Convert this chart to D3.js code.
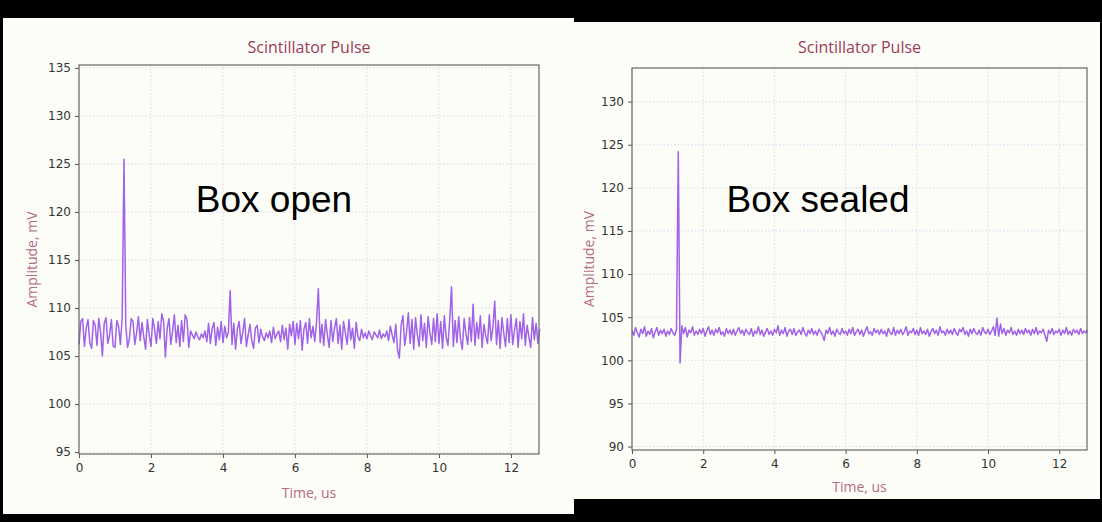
<!DOCTYPE html>
<html>
<head>
<meta charset="utf-8">
<script src="https://cdn.jsdelivr.net/npm/d3@7"></script>
<style>
  body { margin: 0; background: #000; }
  svg { display: block; }
  .tick text { font-family: "DejaVu Sans", sans-serif; font-size: 12px; fill: #333; }
  .tick line { stroke: #555; }
</style>
</head>
<body>
<div id="chart"></div>
<script>
// sampling step of both traces, microseconds
const timeStep = 0.05;

// Box open trace, mV (one value per 0.05 us)
const openAmplitude = [
  106.2, 108.6, 108.9, 106.0, 107.9, 108.8, 106.4, 105.8, 108.7, 108.2, 106.1, 108.9, 107.5, 105.0, 108.4, 109.0, 106.3, 107.2, 108.8, 106.0,
  105.9, 108.7, 108.1, 106.2, 109.0, 125.5, 108.2, 105.9, 106.8, 108.9, 108.6, 106.2, 107.4, 109.1, 106.6, 108.5, 107.0, 105.7, 108.8, 107.2,
  106.0, 108.9, 107.8, 106.3, 108.6, 106.8, 109.4, 108.6, 104.9, 107.9, 108.9, 106.2, 107.6, 109.3, 106.4, 108.2, 106.0, 108.7, 106.5, 109.3,
  108.8, 105.9, 107.6, 107.2, 106.8, 107.5, 107.0, 106.7, 107.3, 106.9, 107.6, 106.5, 108.4, 106.3, 107.9, 108.5, 106.1, 108.0, 106.7, 108.6,
  106.4, 108.1, 106.9, 107.5, 111.8, 106.2, 108.4, 105.7, 107.8, 108.6, 106.3, 107.5, 108.9, 106.0, 107.2, 108.3, 106.6, 105.8, 107.9, 108.2,
  106.4, 107.8, 107.0, 106.6, 107.4, 106.9, 107.6, 106.4, 108.0, 106.8, 107.3, 107.6, 106.5, 108.2, 106.7, 107.9, 105.7, 108.3, 107.1, 108.6,
  106.2, 108.4, 106.8, 108.7, 105.6, 107.8, 108.5, 106.3, 108.9, 106.9, 108.1, 106.5, 108.6, 112.0, 106.4, 108.3, 106.1, 108.8, 107.2, 105.9,
  108.7, 106.5, 107.9, 108.9, 106.3, 108.2, 105.7, 108.6, 107.4, 106.2, 108.8, 106.7, 107.9, 105.8, 108.5, 107.0, 106.6, 107.8, 106.9, 107.4,
  106.8, 107.6, 107.1, 106.7, 107.5, 107.2, 106.9, 107.7, 106.8, 107.3, 107.0, 107.6, 106.6, 108.1, 107.2, 106.4, 108.3, 105.6, 104.8, 108.2,
  109.2, 106.1, 107.5, 109.5, 106.3, 108.8, 105.7, 109.0, 107.2, 106.0, 109.3, 106.6, 108.4, 105.9, 109.1, 107.4, 106.2, 108.9, 106.5, 109.4,
  106.3, 108.6, 105.8, 109.2, 107.0, 106.1, 108.8, 112.2, 106.0, 108.7, 106.4, 109.1, 106.7, 105.7, 108.9, 107.3, 106.2, 109.0, 106.5, 110.4,
  106.1, 108.5, 106.8, 109.2, 105.9, 108.3, 107.1, 106.3, 109.3, 106.6, 108.0, 110.7, 106.2, 108.7, 105.8, 109.0, 107.4, 106.0, 108.9, 106.4,
  109.3, 106.2, 107.7, 108.9, 105.9, 108.6, 106.8, 109.4, 106.1, 108.2, 107.0, 105.9, 109.0, 106.7, 108.4, 106.3, 107.8
];

// Box sealed trace, mV
const sealedAmplitude = [
  103.5, 102.9, 103.8, 103.2, 102.7, 103.6, 103.1, 103.9, 102.8, 103.4, 103.0, 103.7, 102.6, 103.3, 103.8, 102.9, 103.5, 103.1, 103.6, 102.8,
  103.4, 103.0, 103.7, 103.2, 102.9, 103.6, 124.2, 99.7, 104.0, 103.1, 103.8, 102.7, 103.5, 103.2, 103.9, 102.9, 103.4, 103.0, 103.6, 103.1,
  103.7, 102.8, 103.4, 103.9, 103.0, 103.5, 102.9, 103.6, 103.2, 103.8, 103.0, 103.3, 102.8, 103.7, 103.1, 103.5, 103.0, 103.6, 102.9, 103.4,
  103.8, 103.1, 103.5, 102.9, 103.6, 103.2, 103.0, 103.7, 102.8, 103.4, 103.1, 103.9, 103.0, 103.5, 102.8, 103.3, 103.7, 103.0, 103.4, 102.9,
  103.6, 103.2, 104.0, 102.9, 103.5, 103.1, 103.8, 102.8, 103.4, 103.6, 103.0, 103.7, 102.9, 103.3, 103.5, 103.0, 103.8, 103.2, 102.8, 103.5,
  103.1, 103.7, 103.0, 103.4, 102.9, 103.6, 103.3, 102.9, 102.3, 103.5, 103.1, 103.8, 103.0, 103.4, 102.8, 103.6, 103.2, 103.0, 103.7, 103.1,
  103.4, 102.9, 103.6, 103.1, 103.8, 102.9, 103.3, 103.6, 103.0, 103.5, 102.8, 103.4, 103.9, 103.1, 103.3, 102.9, 103.7, 103.2, 103.5, 103.0,
  103.6, 103.1, 103.4, 102.8, 103.7, 103.2, 103.0, 103.8, 102.9, 103.5, 103.1, 103.6, 103.0, 103.3, 103.9, 102.9, 103.4, 103.2, 103.7, 103.0,
  103.5, 102.9, 103.8, 103.1, 103.4, 103.0, 103.6, 102.8, 103.3, 103.7, 103.1, 103.5, 102.9, 103.9, 103.2, 103.4, 102.9, 103.6, 103.1, 103.5,
  103.0, 103.7, 103.2, 102.9, 103.6, 103.3, 103.8, 103.0, 103.4, 102.8, 103.6, 103.1, 103.7, 103.2, 103.0, 103.5, 102.9, 103.8, 103.3, 103.1,
  103.6, 103.0, 103.4, 103.9, 102.9, 104.9, 102.8, 104.2, 103.1, 103.7, 102.9, 103.5, 103.2, 103.8, 103.0, 103.4, 102.9, 103.6, 103.1, 103.5,
  103.0, 103.7, 103.2, 103.5, 102.9, 103.6, 103.1, 103.8, 103.0, 103.4, 103.2, 103.6, 102.9, 102.2, 103.5, 103.1, 103.7, 103.0, 103.4, 103.2,
  103.6, 102.9, 103.5, 103.1, 103.8, 103.0, 103.4, 102.9, 103.6, 103.2, 103.5, 103.0, 103.7, 103.1, 103.4, 103.2, 103.5
];

const timeTicks = [0, 2, 4, 6, 8, 10, 12];
const openTicks = [95, 100, 105, 110, 115, 120, 125, 130, 135];
const sealedTicks = [90, 95, 100, 105, 110, 115, 120, 125, 130];
const chartTitle = "Scintillator Pulse";
const xLabel = "Time, us";
const yLabel = "Amplitude, mV";
const notes = ["Box open", "Box sealed"];

const W = 1102, H = 522;
const svg = d3.select("#chart").append("svg").attr("width", W).attr("height", H);
svg.append("rect").attr("width", W).attr("height", H).attr("fill", "#000");

// each screenshot panel: paper box, plot box, y domain
const panels = [
  {paper: [3, 18, 571, 496], left: 79, right: 539, top: 65, bottom: 454,
   yDomain: [94.8, 135.3], ticks: openTicks, data: openAmplitude, note: notes[0],
   noteX: 274, noteY: 212, yLabelX: 32, titleY: 53, tickY: 472, xLabelY: 498},
  {paper: [573, 22, 527, 477], left: 632, right: 1087, top: 68, bottom: 450,
   yDomain: [89.6, 133.9], ticks: sealedTicks, data: sealedAmplitude, note: notes[1],
   noteX: 818, noteY: 212, yLabelX: 589, titleY: 53, tickY: 468, xLabelY: 492}
];

panels.forEach(drawPanel);

function drawPanel(p) {
  svg.append("rect")
    .attr("x", p.paper[0]).attr("y", p.paper[1])
    .attr("width", p.paper[2]).attr("height", p.paper[3])
    .attr("fill", "#fdfdf7");

  let x = d3.scaleLinear().domain([0, 12.78]).range([p.left, p.right]);
  let y = d3.scaleLinear().domain(p.yDomain).range([p.bottom, p.top]);

  let g = svg.append("g");

  // dotted grid
  g.append("g").selectAll("line").data(timeTicks).join("line")
    .attr("x1", d => x(d)).attr("x2", d => x(d))
    .attr("y1", p.top).attr("y2", p.bottom)
    .attr("stroke", "#d9d9f2").attr("stroke-dasharray", "1.5,2");
  g.append("g").selectAll("line").data(p.ticks).join("line")
    .attr("x1", p.left).attr("x2", p.right)
    .attr("y1", d => y(d)).attr("y2", d => y(d))
    .attr("stroke", "#d9d9f2").attr("stroke-dasharray", "1.5,2");

  // trace
  let line = d3.line()
    .x((d, i) => x(i * timeStep))
    .y(d => y(d));
  g.append("path").datum(p.data)
    .attr("d", line)
    .attr("fill", "none")
    .attr("stroke", "#a062e8")
    .attr("stroke-width", 1.5)
    .attr("stroke-linejoin", "round");

  // axes
  let xAxis = g.append("g")
    .attr("transform", "translate(0," + p.bottom + ")")
    .call(d3.axisBottom(x).tickValues(timeTicks).tickSize(4).tickSizeOuter(0).tickPadding(5));
  let yAxis = g.append("g")
    .attr("transform", "translate(" + p.left + ",0)")
    .call(d3.axisLeft(y).tickValues(p.ticks).tickSize(4).tickSizeOuter(0).tickPadding(4));
  xAxis.select(".domain").remove();
  yAxis.select(".domain").remove();

  g.append("rect")
    .attr("x", p.left).attr("y", p.top)
    .attr("width", p.right - p.left).attr("height", p.bottom - p.top)
    .attr("fill", "none").attr("stroke", "#666").attr("stroke-width", 1.2);

  // title and axis labels
  let mid = (p.left + p.right) / 2;
  g.append("text").attr("x", mid).attr("y", p.titleY)
    .attr("text-anchor", "middle")
    .style("font-family", "'Open Sans', sans-serif").style("font-size", "16px")
    .attr("fill", "#9c3c58").text(chartTitle);
  g.append("text").attr("x", mid).attr("y", p.xLabelY)
    .attr("text-anchor", "middle")
    .style("font-family", "'Open Sans', sans-serif").style("font-size", "14px")
    .attr("fill", "#b56a86").text(xLabel);
  g.append("text")
    .attr("transform", "translate(" + p.yLabelX + "," + ((p.top + p.bottom) / 2) + ") rotate(-90)")
    .attr("text-anchor", "middle").attr("dy", "0.35em")
    .style("font-family", "'Open Sans', sans-serif").style("font-size", "14px")
    .attr("fill", "#b56a86").text(yLabel);

  // overlay note
  g.append("text").attr("x", p.noteX).attr("y", p.noteY)
    .attr("text-anchor", "middle")
    .style("font-family", "'Liberation Sans', Arial, sans-serif").style("font-size", "37px")
    .attr("fill", "#000").text(p.note);
}
</script>
</body>
</html>
